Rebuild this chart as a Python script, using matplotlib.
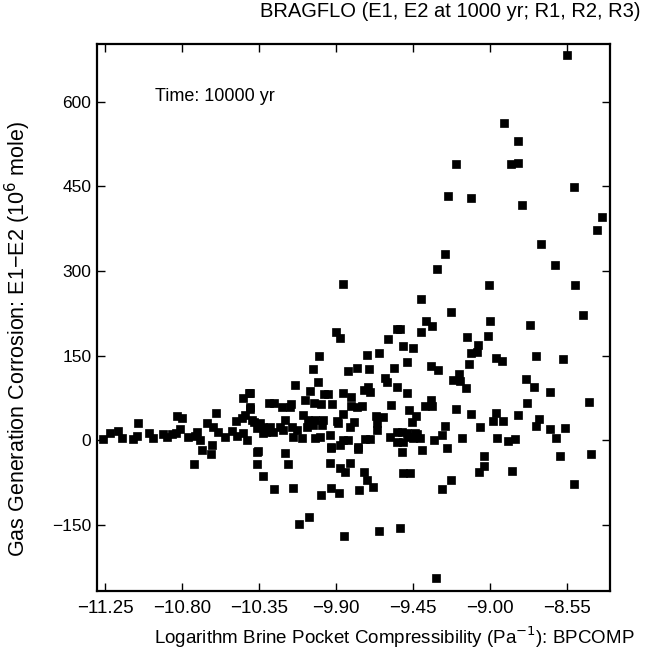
#!/usr/bin/env python3

import matplotlib
matplotlib.use("Agg")
import matplotlib.pyplot as plt
from matplotlib.ticker import FuncFormatter

plt.rcParams['font.family'] = ['Liberation Sans', 'DejaVu Sans']
plt.rcParams['axes.unicode_minus'] = True

# log10 of BPCOMP (Pa^-1) and gas generation difference E1-E2 (10^6 mole)
bpcomp = [
    -8.550, -8.918, -8.836, -9.199, -8.877, -8.836, -8.509, -9.245, -9.111, -8.813,
    -8.702, -9.263, -9.310, -8.620, -8.345, -8.374,
    -9.006, -8.503, -9.403, -9.228, -8.456, -9.000, -9.374, -9.339, -8.766, -9.526,
    -9.403, -9.134, -9.012, -9.508, -9.450, -9.070, -9.111, -9.076, -8.731, -8.573,
    -9.485, -8.965, -8.930, -9.345, -9.304, -9.123, -9.181, -9.216, -9.175, -9.140,
    -8.789, -8.743, -8.649, -9.485, -9.345, -9.380, -9.339, -8.784, -8.421, -9.473,
    -9.432, -9.456, -9.199, -9.111, -8.965, -8.982, -8.924, -8.836, -8.714, -8.731,
    -9.263, -9.058, -8.649, -8.614, -8.561, -9.514, -9.479, -9.438, -9.450, -9.409,
    -9.280, -9.327, -9.163, -8.959, -8.895, -8.854, -9.514, -9.397, -9.251, -9.035,
    -9.035, -9.064, -8.591, -8.410, -8.871, -9.508, -9.467, -9.228, -9.280, -8.509,
    -9.526, -9.316,
    -10.362, -10.198, -9.929, -9.771, -10.362, -10.327, -10.180, -9.935, -9.877, -9.818,
    -9.847, -9.736, -9.719, -10.262, -10.151, -9.929, -9.988, -9.882, -9.765, -9.684,
    -10.058, -10.116, -9.853, -9.649,
    -9.859, -9.900, -9.877, -10.000, -10.034, -10.005, -10.140, -10.052, -10.081, -10.262,
    -10.215, -10.163, -10.169, -9.970, -9.947, -10.029, -9.988, -9.923, -9.859, -9.812,
    -9.830, -9.777, -9.719, -9.649, -9.707, -9.736, -9.713, -9.701, -9.812, -9.777,
    -9.748, -9.859, -9.795, -9.894, -9.596, -9.543, -9.561, -9.614, -9.602, -9.543,
    -9.579, -9.666, -9.625, -9.660, -9.660, -9.730, -9.701, -9.859, -9.830, -9.771,
    -9.929, -9.543, -9.485, -9.426, -10.403, -10.403, -10.391, -10.344, -10.286, -10.227,
    -10.327, -10.268, -10.210, -10.198, -10.157, -10.128, -10.151, -10.093, -10.064, -10.023,
    -10.069, -10.034, -9.982, -9.976, -10.099, -10.023, -9.993, -9.935, -9.888, -9.818,
    -9.584, -9.543, -9.508, -9.877,
    -11.221, -11.174, -11.262, -11.151, -11.086, -11.063, -11.057, -10.993, -10.969, -10.911,
    -10.888, -10.858, -10.829, -10.800, -10.812, -10.835, -10.765, -10.724, -10.695, -10.712,
    -10.654, -10.619, -10.601, -10.683, -10.625, -10.630, -10.730, -10.590, -10.549, -10.508,
    -10.479, -10.443, -10.420, -10.484, -10.449, -10.432, -10.443, -10.408, -10.403, -10.379,
    -10.362, -10.327, -10.309, -10.356, -10.292,
]
gas_diff = [
    683, 563, 531, 490, 490, 492, 449, 433, 430, 417,
    348, 330, 304, 311, 396, 373,
    275, 275, 250, 227, 222, 211, 211, 202, 204, 197,
    192, 183, 185, 167, 163, 169, 154, 156, 149, 144,
    138, 146, 140, 131, 124, 135, 117, 107, 105, 92,
    108, 94, 85, 83, 71, 60, 60, 66, 67, 53,
    43, 32, 55, 46, 48, 34, 34, 44, 37, 25,
    25, 23, 20, 4, 21, 14, 5, 12, 4, 4,
    9, 0, 4, 4, -2, 2, -21, -18, -14, -28,
    -46, -57, -28, -25, -55, -59, -59, -71, -87, -78,
    -156, -245,
    -21, -23, -14, -16, -43, -64, -43, -41, -50, -41,
    -57, -57, -71, -87, -85, -85, -98, -94, -89, -83,
    -137, -149, -170, -162,
    277, 192, 181, 149, 126, 103, 98, 87, 71, 66,
    59, 64, 59, 82, 82, 66, 64, 64, 83, 76,
    122, 128, 151, 154, 126, 89, 94, 85, 60, 59,
    60, 46, 32, 34, 179, 197, 128, 110, 103, 94,
    62, 43, 41, 30, 18, 2, 2, 0, 0, -12,
    -12, 14, 12, 11, 83, 59, 36, 30, 23, 23,
    12, 14, 18, 36, 23, 18, 5, 44, 36, 36,
    23, 27, 27, 36, 4, 4, 5, 9, 30, 23,
    5, -4, -4, -9,
    12, 16, 2, 4, 2, 7, 30, 12, 4, 11,
    5, 11, 43, 39, 20, 12, 5, 7, 0, 14,
    30, 23, 48, -18, -9, -25, -43, 14, 5, 16,
    7, 12, 0, 34, 39, 44, 75, 83, 55, 32,
    21, 23, 14, -20, 66,
]

x_ticks = [-11.25, -10.80, -10.35, -9.90, -9.45, -9.00, -8.55]
y_ticks = [-150, 0, 150, 300, 450, 600]

fig = plt.figure(figsize=(6.46, 6.54), dpi=100)
ax = fig.add_axes([0.150, 0.096, 0.794, 0.837])

ax.plot(bpcomp, gas_diff, 's', color='black', markersize=5.3, markeredgewidth=0.5)

ax.set_xlim(-11.297, -8.30)
ax.set_ylim(-268, 703)
ax.set_xticks(x_ticks)
ax.set_yticks(y_ticks)
ax.xaxis.set_major_formatter(FuncFormatter(lambda v, p: f"{v:.2f}".replace('-', '\u2212')))
ax.yaxis.set_major_formatter(FuncFormatter(lambda v, p: f"{v:.0f}".replace('-', '\u2212')))
ax.tick_params(direction='in', top=True, right=True, length=6, width=1.0)
ax.tick_params(axis='x', labelsize=13.5, pad=6)
ax.tick_params(axis='y', labelsize=12.5, pad=4)
for s in ax.spines.values():
    s.set_linewidth(1.6)

ax.set_xlabel("Logarithm Brine Pocket Compressibility (Pa$^{-1}$): BPCOMP", fontsize=13.5)
ax.xaxis.set_label_coords(0.58, -0.06)
ax.set_ylabel("Gas Generation Corrosion: E1\u2212E2 (10$^6$ mole)", fontsize=15.5)
ax.yaxis.set_label_coords(-0.125, 0.46)
ax.text(0.113, 0.903, "Time: 10000 yr", transform=ax.transAxes, fontsize=13, va='center')
fig.text(0.992, 0.982, "BRAGFLO (E1, E2 at 1000 yr; R1, R2, R3)", ha='right', va='center', fontsize=14.5)

fig.savefig("out.png", dpi=100)
